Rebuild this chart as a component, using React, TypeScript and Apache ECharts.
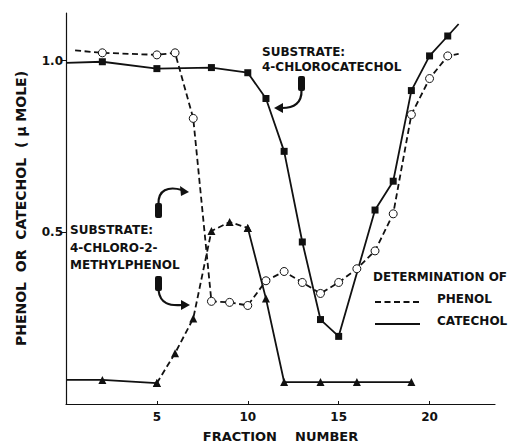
import React, { useEffect, useRef } from "react";
import * as echarts from "echarts";

// Phenol determination (open circles, dashed)
const phenolX = [0.5, 2, 5, 6, 7, 8, 9, 10, 11, 12, 13, 14, 15, 16, 17, 18, 19, 20, 21, 21.6];
const phenolY = [1.03, 1.023, 1.017, 1.023, 0.832, 0.299, 0.296, 0.287, 0.359, 0.386, 0.354, 0.322, 0.354, 0.394, 0.446, 0.554, 0.843, 0.948, 1.014, 1.02];

// Catechol determination, substrate 4-chlorocatechol (filled squares, solid)
const catX = [0, 2, 5, 8, 10, 11, 12, 13, 14, 15, 17, 18, 19, 20, 21, 21.6];
const catY = [0.994, 0.997, 0.977, 0.98, 0.965, 0.89, 0.736, 0.472, 0.246, 0.197, 0.565, 0.649, 0.913, 1.014, 1.072, 1.107];

// Catechol determination, substrate 4-chloro-2-methylphenol (filled triangles)
const triX = [0, 2, 5, 6, 7, 8, 9, 10, 11, 12, 14, 16, 19];
const triY = [0.07, 0.07, 0.061, 0.148, 0.249, 0.504, 0.53, 0.513, 0.307, 0.064, 0.064, 0.064, 0.064];

const xTicks = [5, 10, 15, 20];
const yTicks = [0.5, 1.0];

const FONT = "DejaVu Sans";

export default function App() {
  const ref = useRef<HTMLDivElement>(null);
  useEffect(() => {
    if (!ref.current) return;
    const chart = echarts.init(ref.current, undefined, { renderer: "svg" });

    const phenolData = phenolX.map((x, i) => {
      const edge = i === 0 || i === phenolX.length - 1;
      return edge ? { value: [x, phenolY[i]], symbol: "none" } : { value: [x, phenolY[i]] };
    });
    const catData = catX.map((x, i) => {
      const edge = i === 0 || i === catX.length - 1;
      return edge ? { value: [x, catY[i]], symbol: "none" } : { value: [x, catY[i]] };
    });
    const triPts = triX.map((x, i) => ({ value: [x, triY[i]], symbol: i === 0 ? "none" : "triangle" }));
    const triSolidA = triPts.filter((p) => p.value[0] <= 5);
    const triDash = triPts.filter((p) => p.value[0] >= 5 && p.value[0] <= 10);
    const triSolidB = triPts.filter((p) => p.value[0] >= 10);

    const bold = { fontFamily: FONT, fontWeight: "bold" as const, color: "#111" };
    const txt = (x: number, y: number, s: string, size = 12) => ({
      type: "text",
      x,
      y,
      style: { text: s, fill: "#111", font: `bold ${size}px ${FONT}`, textVerticalAlign: "middle" },
    });
    const plug = (x: number, y: number) => ({
      type: "rect",
      shape: { x, y, width: 7, height: 15, r: 2 },
      style: { fill: "#111" },
    });
    const curve = (x1: number, y1: number, c1x: number, c1y: number, c2x: number, c2y: number, x2: number, y2: number) => ({
      type: "bezierCurve",
      shape: { x1, y1, cpx1: c1x, cpy1: c1y, cpx2: c2x, cpy2: c2y, x2, y2 },
      style: { stroke: "#111", lineWidth: 2.2, fill: "none" },
    });
    const head = (pts: number[][]) => ({
      type: "polygon",
      shape: { points: pts },
      style: { fill: "#111" },
    });

    const lineSeries = (name: string, data: any[], dashed: boolean, symbol: string, filled: boolean, size: number) => ({
      name,
      type: "line",
      data,
      symbol,
      symbolSize: size,
      showSymbol: true,
      lineStyle: { color: "#111", width: 1.8, type: dashed ? [6, 3.5] : "solid" },
      itemStyle: { color: filled ? "#111" : "#fff", borderColor: "#111", borderWidth: filled ? 0 : 1 },
      z: filled ? 3 : 4,
    });

    chart.setOption({
      animation: false,
      backgroundColor: "#fff",
      grid: { left: 66, right: 17, top: 13, bottom: 42 },
      xAxis: {
        type: "value",
        min: 0,
        max: 23.6,
        interval: 5,
        name: "FRACTION    NUMBER",
        nameLocation: "middle",
        nameGap: 26,
        nameTextStyle: { ...bold, fontSize: 13 },
        axisLine: { show: true, lineStyle: { color: "#111", width: 1.2 } },
        axisTick: { show: true, inside: true, length: 3, customValues: xTicks, lineStyle: { color: "#111" } },
        axisLabel: { ...bold, fontSize: 12, margin: 7, customValues: xTicks },
        splitLine: { show: false },
      },
      yAxis: {
        type: "value",
        min: 0,
        max: 1.139,
        interval: 0.5,
        name: "PHENOL  OR  CATECHOL  ( μ MOLE)",
        nameLocation: "middle",
        nameGap: 38,
        nameRotate: 90,
        nameTextStyle: { ...bold, fontSize: 14 },
        axisLine: { show: true, lineStyle: { color: "#111", width: 1.2 } },
        axisTick: { show: true, length: 5, customValues: yTicks, lineStyle: { color: "#111" } },
        axisLabel: { ...bold, fontSize: 12, margin: 3, customValues: yTicks, formatter: (v: number) => v.toFixed(1) },
        splitLine: { show: false },
      },
      series: [
        lineSeries("cat", catData, false, "rect", true, 7),
        lineSeries("triA", triSolidA, false, "triangle", true, 8),
        lineSeries("triD", triDash, true, "triangle", true, 8),
        lineSeries("triB", triSolidB, false, "triangle", true, 8),
        lineSeries("phenol", phenolData, true, "circle", false, 8),
      ],
      graphic: [
        txt(262, 52, "SUBSTRATE:"),
        txt(262, 67, "4-CHLOROCATECHOL"),
        txt(70, 230, "SUBSTRATE:"),
        txt(70, 248, "4-CHLORO-2-"),
        txt(70, 265, "METHYLPHENOL"),
        txt(373, 277, "DETERMINATION OF"),
        txt(437, 299, "PHENOL"),
        txt(437, 321, "CATECHOL"),
        { type: "line", shape: { x1: 375, y1: 302, x2: 419, y2: 302 }, style: { stroke: "#111", lineWidth: 1.8, lineDash: [6, 3.5] } },
        { type: "line", shape: { x1: 375, y1: 324, x2: 420, y2: 324 }, style: { stroke: "#111", lineWidth: 1.8 } },
        // arrow: upper methylphenol
        plug(155, 203),
        curve(158.5, 204, 158, 190, 168, 186, 182, 190),
        head([[189, 192], [180, 186], [181, 196]]),
        // arrow: lower methylphenol
        plug(155, 276),
        curve(158.5, 290, 160, 304, 170, 306, 182, 305),
        head([[190, 305], [181, 300], [181, 310]]),
        // arrow: 4-chlorocatechol
        plug(298, 76),
        curve(301.5, 90, 302, 103, 294, 108, 282, 108),
        head([[274, 108], [283, 103], [283, 113]]),
      ],
    });
    return () => chart.dispose();
  }, []);
  return <div ref={ref} style={{ position: "absolute", left: 0, top: 0, width: 512, height: 448 }} />;
}
